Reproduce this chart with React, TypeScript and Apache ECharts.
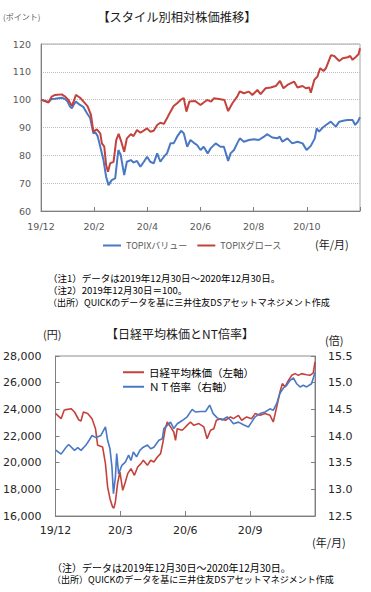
import React, { useEffect, useRef } from 'react';
import * as echarts from 'echarts';

// ---------- Data: top chart (relative price, 2019/12/30 = 100; x = months since 2019/12/30) ----------
const topXLabels = ['19/12', '20/2', '20/4', '20/6', '20/8', '20/10'];
const topSeriesNames = ['TOPIXバリュー', 'TOPIXグロース'];

const topixValue: [number, number][] = [
  [0, 100], [0.28, 99.2], [0.4, 100.2], [0.53, 100.3], [0.78, 100.7], [0.91, 100.2], [1.0, 99.3], [1.09, 97.5],
  [1.16, 96.9], [1.25, 98.5], [1.31, 99.3], [1.47, 98.1], [1.6, 97.3], [1.73, 95.1], [1.85, 93.4], [1.97, 87.9],
  [2.05, 88.2], [2.13, 86.9], [2.23, 83.1], [2.35, 78.3], [2.45, 72.3], [2.54, 69.3], [2.66, 71.1], [2.79, 71.7],
  [2.91, 81.9], [3.0, 80.1], [3.13, 72.9], [3.23, 77.7], [3.38, 78.3], [3.48, 77.4], [3.61, 78.0], [3.74, 75.9],
  [3.87, 77.7], [3.99, 79.5], [4.11, 77.7], [4.24, 77.1], [4.37, 80.7], [4.49, 77.7], [4.62, 79.5], [4.74, 80.7],
  [4.87, 84.3], [4.99, 84.3], [5.12, 86.7], [5.27, 88.8], [5.37, 87.9], [5.5, 83.1], [5.62, 85.5], [5.75, 84.5],
  [5.87, 83.7], [6.0, 81.9], [6.12, 83.1], [6.27, 80.7], [6.38, 82.5], [6.57, 84.3], [6.75, 83.1], [6.88, 83.1],
  [7.04, 78.0], [7.13, 80.7], [7.26, 81.9], [7.38, 84.3], [7.48, 86.1], [7.63, 84.9], [7.82, 85.5], [8.01, 85.8],
  [8.19, 85.5], [8.39, 86.7], [8.5, 87.6], [8.7, 86.4], [8.89, 86.1], [8.98, 86.7], [9.08, 84.9], [9.27, 86.1],
  [9.45, 84.3], [9.65, 84.9], [9.84, 84.3], [9.99, 81.9], [10.15, 83.4], [10.3, 86.1], [10.37, 89.7], [10.46, 88.5],
  [10.59, 89.9], [10.72, 90.9], [10.9, 92.1], [11.09, 90.3], [11.22, 92.1], [11.41, 92.5], [11.54, 92.7], [11.72, 92.7],
  [11.82, 90.9], [11.92, 92.1], [12.0, 93.7],
];

const topixGrowth: [number, number][] = [
  [0, 100], [0.28, 99.0], [0.4, 101.1], [0.53, 101.7], [0.78, 101.9], [0.91, 101.1], [1.03, 99.9], [1.16, 97.7],
  [1.25, 99.9], [1.31, 101.7], [1.47, 100.7], [1.6, 99.3], [1.75, 97.7], [1.88, 94.5], [1.97, 88.5], [2.1, 89.3],
  [2.23, 87.9], [2.29, 84.3], [2.38, 83.1], [2.45, 76.5], [2.52, 74.1], [2.6, 77.1], [2.73, 77.7], [2.83, 85.5],
  [2.92, 87.7], [3.02, 84.9], [3.13, 81.3], [3.23, 86.1], [3.38, 87.6], [3.48, 86.9], [3.61, 89.1], [3.74, 88.1],
  [3.99, 89.7], [4.11, 88.5], [4.24, 88.8], [4.37, 90.9], [4.49, 91.7], [4.62, 91.3], [4.74, 93.3], [4.87, 95.7],
  [4.99, 97.7], [5.12, 98.7], [5.25, 99.9], [5.37, 100.6], [5.47, 95.7], [5.58, 99.3], [5.8, 99.5], [6.0, 98.1],
  [6.12, 99.0], [6.25, 99.9], [6.4, 99.3], [6.5, 100.5], [6.7, 100.2], [6.9, 99.9], [7.04, 95.9], [7.2, 98.7],
  [7.38, 101.1], [7.48, 103.0], [7.63, 102.3], [7.82, 102.9], [7.95, 101.7], [8.14, 103.5], [8.26, 102.0], [8.45, 104.1],
  [8.64, 104.4], [8.83, 104.9], [8.99, 106.7], [9.12, 104.1], [9.27, 105.3], [9.52, 106.5], [9.65, 104.4], [9.84, 104.9],
  [9.96, 104.1], [10.09, 104.4], [10.15, 102.5], [10.28, 107.1], [10.4, 108.3], [10.5, 111.3], [10.63, 110.3], [10.72, 111.3],
  [10.91, 116.0], [11.03, 115.7], [11.22, 113.9], [11.35, 114.9], [11.54, 115.2], [11.63, 115.7], [11.72, 114.3], [11.85, 115.4],
  [11.95, 116.4], [12.0, 118.5],
];

// ---------- Data: bottom chart (Nikkei 225 in yen, NT ratio; x = months since 2019/12/30) ----------
const bottomXLabels = ['19/12', '20/3', '20/6', '20/9'];
const bottomSeriesNames = ['日経平均株価（左軸）', 'ＮＴ倍率（右軸）'];

const nikkei: [number, number][] = [
  [0, 23700], [0.26, 23300], [0.4, 23930], [0.49, 23980], [0.72, 24050], [0.88, 23800], [1.08, 23200], [1.18, 23130],
  [1.29, 23800], [1.49, 23680], [1.69, 23300], [1.85, 22550], [1.95, 21300], [2.18, 21170], [2.31, 19930], [2.41, 18180],
  [2.52, 17300], [2.64, 16670], [2.7, 16600], [2.77, 17050], [2.87, 18430], [2.98, 19300], [3.11, 17930], [3.23, 18550],
  [3.34, 19180], [3.49, 19550], [3.65, 19050], [3.8, 19680], [3.95, 19930], [4.06, 20180], [4.25, 19800], [4.4, 20180],
  [4.55, 20050], [4.71, 20430], [4.86, 20680], [4.97, 21550], [5.07, 22500], [5.17, 23050], [5.32, 22680], [5.47, 22300],
  [5.55, 21680], [5.63, 22550], [5.86, 22430], [6.01, 22680], [6.24, 23050], [6.4, 22800], [6.63, 22930], [6.86, 22680],
  [7.01, 21800], [7.17, 22430], [7.32, 22550], [7.44, 23180], [7.63, 23300], [7.86, 23180], [8.09, 23430], [8.23, 23300],
  [8.46, 23550], [8.61, 23180], [8.84, 23430], [9.07, 23300], [9.23, 23680], [9.46, 23550], [9.69, 23680], [9.92, 23550],
  [10.07, 23050], [10.23, 24180], [10.38, 25300], [10.49, 25930], [10.61, 25680], [10.73, 26050], [10.92, 26550], [11.08, 26680],
  [11.23, 26550], [11.38, 26680], [11.61, 26600], [11.77, 26550], [11.92, 26730], [12.0, 27550],
];

const ntRatio: [number, number][] = [
  [0, 13.74], [0.26, 13.66], [0.49, 13.79], [0.61, 13.84], [0.88, 13.73], [1.03, 13.78], [1.18, 13.73], [1.41, 13.83],
  [1.57, 13.93], [1.69, 14.01], [1.87, 13.97], [2.1, 14.01], [2.31, 14.17], [2.41, 13.92], [2.52, 13.76], [2.61, 13.42],
  [2.68, 12.92], [2.77, 13.23], [2.83, 13.67], [2.92, 13.29], [3.07, 13.45], [3.23, 13.51], [3.38, 13.64], [3.49, 13.54],
  [3.6, 13.7], [3.75, 13.61], [3.9, 13.73], [4.06, 13.79], [4.25, 13.83], [4.4, 13.76], [4.55, 13.79], [4.78, 13.92],
  [4.94, 13.95], [5.01, 14.14], [5.17, 14.2], [5.32, 14.26], [5.47, 14.14], [5.63, 14.23], [5.86, 14.29], [6.09, 14.36],
  [6.32, 14.5], [6.47, 14.45], [6.71, 14.46], [6.94, 14.46], [7.13, 14.58], [7.29, 14.42], [7.48, 14.34], [7.71, 14.3],
  [7.94, 14.36], [8.09, 14.3], [8.23, 14.23], [8.46, 14.26], [8.69, 14.21], [8.92, 14.17], [9.07, 14.26], [9.23, 14.36],
  [9.46, 14.42], [9.69, 14.45], [9.92, 14.51], [10.07, 14.48], [10.23, 14.61], [10.38, 14.8], [10.54, 14.9], [10.69, 14.95],
  [10.84, 15.04], [11.0, 15.09], [11.15, 14.98], [11.31, 14.92], [11.46, 14.95], [11.61, 14.92], [11.84, 14.98], [12.0, 15.19],
];

const JP = '"Noto Sans CJK JP", sans-serif';
const NUM = '"DejaVu Sans", Verdana, sans-serif';
const BLUE = '#4a78c4';
const RED = '#c4423c';

function txt(text: string, x: number, y: number, size: number, fill: string, align = 'left', family = JP) {
  return {
    type: 'text',
    x,
    y,
    silent: true,
    style: { text, fontSize: size, fill, fontFamily: family, textAlign: align, textVerticalAlign: 'middle' },
  };
}

export default function App() {
  const ref = useRef<HTMLDivElement>(null);

  useEffect(() => {
    if (!ref.current) return;
    const chart = echarts.init(ref.current, undefined, { renderer: 'svg' });

    const option = {
      animation: false,
      backgroundColor: '#ffffff',
      grid: [
        { left: 41, top: 44, width: 319, height: 167, show: true, borderColor: '#a6a6a6', borderWidth: 1 },
        { left: 55, top: 356, width: 260, height: 160, show: true, borderColor: '#8c8c8c', borderWidth: 1 },
      ],
      xAxis: [
        {
          gridIndex: 0, type: 'value', min: 0, max: 12, interval: 2,
          axisLine: { lineStyle: { color: '#7f7f7f', width: 1 } },
          axisTick: { inside: true, length: 4, lineStyle: { color: '#7f7f7f' } },
          splitLine: { show: false },
          axisLabel: {
            formatter: (v: number) => topXLabels[Math.round(v / 2)] ?? '',
            color: '#595959', fontSize: 9.5, fontFamily: NUM, margin: 10,
          },
        },
        {
          gridIndex: 1, type: 'value', min: 0, max: 12, interval: 3,
          axisLine: { lineStyle: { color: '#7f7f7f', width: 1 } },
          axisTick: { inside: true, length: 5, lineStyle: { color: '#7f7f7f' } },
          splitLine: { show: false },
          axisLabel: {
            formatter: (v: number) => bottomXLabels[Math.round(v / 3)] ?? '',
            color: '#262626', fontSize: 11, fontFamily: NUM, margin: 9,
          },
        },
      ],
      yAxis: [
        {
          gridIndex: 0, type: 'value', min: 60, max: 120, interval: 10,
          axisLine: { show: true, lineStyle: { color: '#7f7f7f', width: 1 } },
          axisTick: { show: false },
          splitLine: { show: true, lineStyle: { type: 'dotted', color: '#bdbdbd', width: 1 } },
          axisLabel: { color: '#595959', fontSize: 9.5, fontFamily: NUM, margin: 10 },
        },
        {
          gridIndex: 1, type: 'value', position: 'left', min: 16000, max: 28000, interval: 2000,
          axisLine: { show: true, lineStyle: { color: '#7f7f7f', width: 1 } },
          axisTick: { show: true, inside: true, length: 4, lineStyle: { color: '#7f7f7f' } },
          splitLine: { show: false },
          axisLabel: {
            formatter: (v: number) => v.toLocaleString('en-US'),
            color: '#262626', fontSize: 11, fontFamily: NUM, margin: 14,
          },
        },
        {
          gridIndex: 1, type: 'value', position: 'right', min: 12.5, max: 15.5, interval: 0.5,
          axisLine: { show: true, lineStyle: { color: '#7f7f7f', width: 1 } },
          axisTick: { show: true, inside: true, length: 4, lineStyle: { color: '#7f7f7f' } },
          splitLine: { show: false },
          axisLabel: {
            formatter: (v: number) => v.toFixed(1),
            color: '#262626', fontSize: 11, fontFamily: NUM, margin: 13,
          },
        },
      ],
      legend: [
        {
          data: topSeriesNames,
          left: 98, top: 236, itemWidth: 18, itemHeight: 2, itemGap: 10, icon: 'rect',
          textStyle: { color: '#595959', fontSize: 9, fontFamily: JP },
        },
        {
          data: bottomSeriesNames,
          orient: 'vertical', left: 118, top: 362, itemWidth: 21, itemHeight: 2, itemGap: 4, icon: 'rect',
          textStyle: { color: '#000000', fontSize: 10.5, fontFamily: JP },
        },
      ],
      series: [
        {
          name: topSeriesNames[0], type: 'line', xAxisIndex: 0, yAxisIndex: 0, data: topixValue,
          showSymbol: false, symbol: 'none', color: BLUE, lineStyle: { width: 2, color: BLUE },
        },
        {
          name: topSeriesNames[1], type: 'line', xAxisIndex: 0, yAxisIndex: 0, data: topixGrowth,
          showSymbol: false, symbol: 'none', color: RED, lineStyle: { width: 2, color: RED },
        },
        {
          name: bottomSeriesNames[0], type: 'line', xAxisIndex: 1, yAxisIndex: 1, data: nikkei,
          showSymbol: false, symbol: 'none', color: RED, lineStyle: { width: 1.6, color: RED },
        },
        {
          name: bottomSeriesNames[1], type: 'line', xAxisIndex: 1, yAxisIndex: 2, data: ntRatio,
          showSymbol: false, symbol: 'none', color: BLUE, lineStyle: { width: 1.6, color: BLUE },
        },
      ],
      graphic: [
        txt('(ポイント)', 3, 16, 8, '#595959'),
        txt('【スタイル別相対株価推移】', 177, 17, 12.25, '#1a1a1a', 'center'),
        txt('(年/月)', 315, 244, 11, '#1a1a1a'),
        txt('（注1）データは2019年12月30日～2020年12月30日。', 48, 277.5, 9.5, '#000000'),
        txt('（注2）2019年12月30日＝100。', 48, 290, 9.5, '#000000'),
        txt('（出所）QUICKのデータを基に三井住友DSアセットマネジメント作成', 48, 302.5, 9, '#000000'),
        txt('(円)', 43, 334, 11, '#1a1a1a'),
        txt('【日経平均株価とNT倍率】', 180, 333, 12, '#1a1a1a', 'center'),
        txt('(倍)', 325, 340, 11, '#1a1a1a'),
        txt('(年/月)', 312, 542, 11, '#1a1a1a'),
        txt('（注）データは2019年12月30日～2020年12月30日。', 52, 567, 10, '#000000'),
        txt('（出所）QUICKのデータを基に三井住友DSアセットマネジメント作成', 52, 579.5, 9, '#000000'),
      ],
    };

    chart.setOption(option as any);
    return () => {
      chart.dispose();
    };
  }, []);

  return (
    <div
      ref={ref}
      style={{ position: 'fixed', left: 0, top: 0, width: 371, height: 592, background: '#ffffff' }}
    />
  );
}
